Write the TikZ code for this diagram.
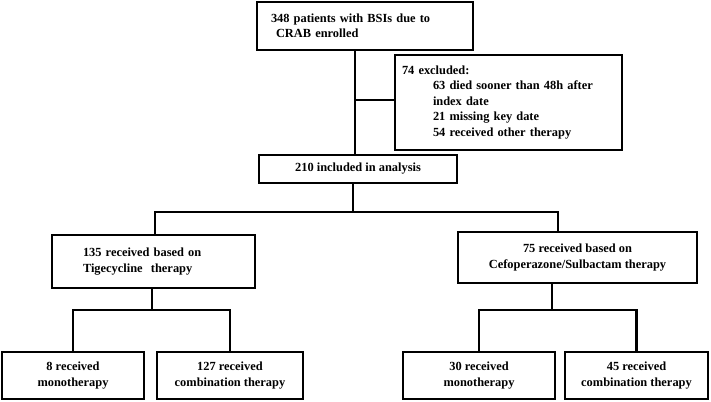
\documentclass[tikz,border=0pt]{standalone}
\usepackage{fontspec}
\setmainfont{Liberation Serif}

\begin{document}
\begin{tikzpicture}
[x=1pt,y=-1pt,
  boxDecorate/.style={shape=rectangle,draw,line width=2.2pt,inner sep=0pt,
    font=\fontsize{12.4}{15.5}\selectfont\bfseries},
  lineDecorate/.style={-,line width=2.2pt}]
\useasboundingbox (0,0) rectangle (711,401);
%% boxes
\node (enrolled) at (365,26) [boxDecorate,minimum width=216pt,minimum height=48pt,
  text width=188pt,align=left]
  {348 patients with BSIs due to\\\hspace*{5pt}CRAB enrolled};
\node (excluded) at (508.5,102.5) [boxDecorate,minimum width=227pt,minimum height=95pt,
  text width=213pt,align=left]
  {74 excluded:\\
   \hspace*{31pt}63 died sooner than 48h after\\
   \hspace*{31pt}index date\\
   \hspace*{31pt}21 missing key date\\
   \hspace*{31pt}54 received other therapy};
\node (included) at (358,169) [boxDecorate,minimum width=198pt,minimum height=28pt]
  {210 included in analysis};
\node (tigeBox) at (153.5,261.5) [boxDecorate,minimum width=203pt,minimum height=53pt,
  text width=141pt,align=left]
  {135 received based on\\Tigecycline\ \ therapy};
\node (cefoBox) at (577.5,257.5) [boxDecorate,minimum width=239pt,minimum height=51pt,
  align=center]
  {75 received based on\\Cefoperazone/Sulbactam therapy};
\foreach \nodename/\x/\w/\txt in {
  tigeMono/73/142/{8 received\\monotherapy},
  tigeComb/230/146/{127 received\\combination therapy},
  cefoMono/479/152/{30 received\\monotherapy},
  cefoComb/636.5/143/{45 received\\combination therapy}}
{
  \node (\nodename) at (\x,375.5) [boxDecorate,minimum width=\w pt,minimum height=47pt,
    align=center] {\txt};
}
%% junctions
\coordinate (excl) at (355,100);
\coordinate (split) at (353,212);
\coordinate (tige) at (155,212);
\coordinate (cefo) at (558,212);
\coordinate (tigeSplit) at (152,310);
\coordinate (cefoSplit) at (552,310);
%% lines
\draw[lineDecorate] (excl |- enrolled.south) -- (excl |- included.north);
\draw[lineDecorate] (excl) -- (excl -| excluded.west);
\draw[lineDecorate] (split |- included.south) -- (split);
\draw[lineDecorate] (tige |- tigeBox.north) -- (tige) -- (cefo) -- (cefo |- cefoBox.north);
\foreach \parent/\fork/\mono/\comb in {
  tigeBox/tigeSplit/tigeMono/tigeComb,
  cefoBox/cefoSplit/cefoMono/cefoComb}
{
  \draw[lineDecorate] (\fork |- \parent.south) -- (\fork);
  \draw[lineDecorate] (\mono.north) |- (\fork) -| (\comb.north);
}
\end{tikzpicture}
\end{document}
